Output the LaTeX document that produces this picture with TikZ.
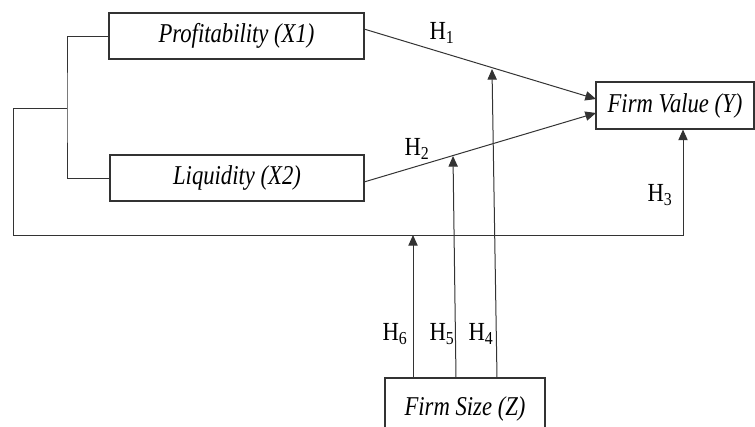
\documentclass[tikz,border=0pt]{standalone}
\usepackage{fontspec}
\usepackage{graphicx}
\setmainfont{Liberation Serif}
\usetikzlibrary{arrows.meta}
\newcommand{\tallbox}[1]{\scalebox{1}[1.2]{#1}}
\newcommand{\tallh}[1]{\scalebox{1}[1.15]{H\textsubscript{#1}}}
\tikzset{
  box/.style={draw=black!80, line width=0.8pt, inner sep=0pt, font=\fontsize{17}{20}\selectfont\itshape},
  conn/.style={draw=black!80, line width=0.75pt},
  arr/.style={conn, -{Triangle[length=8pt,width=7pt]}},
  hlab/.style={font=\fontsize{17}{20}\selectfont, inner sep=0pt}
}
\begin{document}
\begin{tikzpicture}[x=0.75pt,y=-0.75pt]
\useasboundingbox (0,0) rectangle (755,426);
\clip (0,0) rectangle (755,426);
% boxes
\node[box, minimum width=191.25pt, minimum height=34.5pt] (p) at (236.5,36) {\tallbox{Profitability (X1)}};
\node[box, minimum width=190.5pt, minimum height=34.5pt] (l) at (237,178) {\tallbox{Liquidity (X2)}};
\node[box, minimum width=118.5pt, minimum height=35.25pt] (fv) at (675,105.5) {\tallbox{Firm Value (Y)}};
\node[box, minimum width=120pt, minimum height=46.5pt] (fs) at (465,409) {\tallbox{Firm Size (Z)}};
% bracket
\coordinate (bj) at (67,108);
\coordinate (bl) at (13,108);
\coordinate (br) at (683,235);
\draw[conn] (p.west) -| (bj) |- (l.west);
\draw[conn] (bj) -- (bl);
\draw[arr] (bl) |- (br) -- (br |- fv.south);
% H1, H2
\coordinate (p1) at (364,29);
\coordinate (f1) at (596,99);
\coordinate (l1) at (364,182);
\coordinate (f2) at (596,113);
\draw[arr] (p1) -- (f1);
\draw[arr] (l1) -- (f2);
% moderation arrows
\coordinate (s4) at (497,378);
\coordinate (e4) at (492,69);
\coordinate (s5) at (456,378);
\coordinate (e5) at (453,156);
\coordinate (s6) at (413,378);
\coordinate (e6) at (413,235);
\draw[arr] (s4) -- (e4);
\draw[arr] (s5) -- (e5);
\draw[arr] (s6) -- (e6);
% labels
\node[hlab] (h1) at (442,33) {\tallh{1}};
\node[hlab] (h2) at (417,149) {\tallh{2}};
\node[hlab] (h3) at (660,195) {\tallh{3}};
\node[hlab] (h6) at (395,334) {\tallh{6}};
\node[hlab] (h5) at (442,334) {\tallh{5}};
\node[hlab] (h4) at (481,334) {\tallh{4}};
\end{tikzpicture}
\end{document}
